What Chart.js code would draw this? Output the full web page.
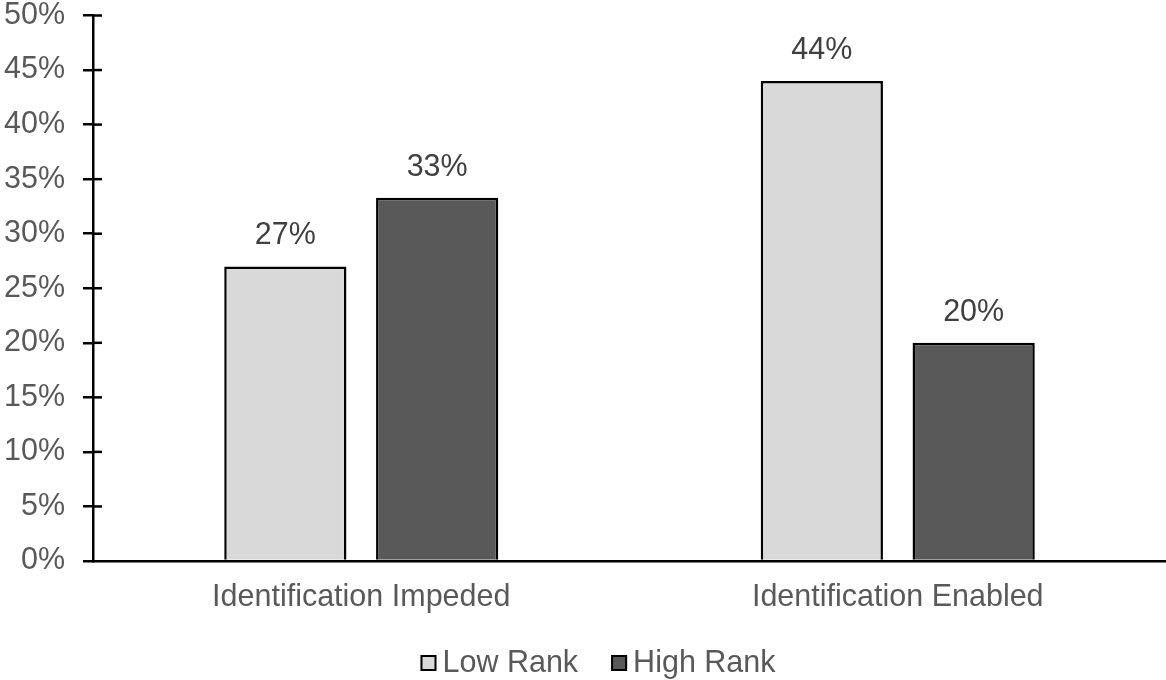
<!DOCTYPE html>
<html>
<head>
<meta charset="utf-8">
<script src="https://cdn.jsdelivr.net/npm/chart.js@4.4.0/dist/chart.umd.min.js"></script>
<style>
html,body{margin:0;padding:0;background:#fff;}
#wrap{width:1166px;height:680px;position:relative;}
</style>
</head>
<body>
<div id="wrap"><canvas id="c" width="1166" height="680"></canvas></div>
<script>
// data
const CATEGORIES = ["Identification Impeded", "Identification Enabled"];
const SERIES = ["Low Rank", "High Rank"];
const LOW_RANK = [27, 44];
const HIGH_RANK = [33.3, 20];
const Y_TICKS = [0, 5, 10, 15, 20, 25, 30, 35, 40, 45, 50];

const FONT = "'Liberation Sans', Arial, sans-serif";
const FSIZE = 30.5;
const COLORS = ['#d9d9d9', '#595959'];

const innerTicks = {
  id: 'innerTicks',
  afterDraw(chart) {
    const y = chart.scales.y;
    const ctx = chart.ctx;
    ctx.save();
    ctx.strokeStyle = '#000';
    ctx.lineWidth = 2.5;
    Y_TICKS.forEach(v => {
      if (v === 0) return;
      const py = y.getPixelForValue(v);
      ctx.beginPath();
      ctx.moveTo(chart.chartArea.left, py);
      ctx.lineTo(chart.chartArea.left + 9, py);
      ctx.stroke();
    });
    ctx.restore();
  }
};

const dataLabels = {
  id: 'dataLabels',
  afterDatasetsDraw(chart) {
    const ctx = chart.ctx;
    ctx.save();
    ctx.font = FSIZE + 'px ' + FONT;
    ctx.fillStyle = '#404040';
    ctx.textAlign = 'center';
    ctx.textBaseline = 'alphabetic';
    chart.data.datasets.forEach((ds, i) => {
      const meta = chart.getDatasetMeta(i);
      meta.data.forEach((el, j) => {
        ctx.fillText(Math.round(ds.data[j]) + '%', el.x, el.y - 22);
      });
    });
    ctx.restore();
  }
};

const customLegend = {
  id: 'customLegend',
  afterDraw(chart) {
    const ctx = chart.ctx;
    ctx.save();
    ctx.font = FSIZE + 'px ' + FONT;
    const box = 16, gap = 6, spacing = 33;
    const items = chart.data.datasets.map(ds => ({ text: ds.label, fill: ds.backgroundColor, w: ctx.measureText(ds.label).width }));
    const total = items.reduce((a, it) => a + box + gap + it.w, 0) + spacing * (items.length - 1);
    const cx = chart.width / 2 + 15;
    let x = cx - total / 2;
    const baseY = chart.height - 8;
    items.forEach(it => {
      ctx.fillStyle = it.fill;
      ctx.fillRect(x, baseY - box - 1, box, box);
      ctx.strokeStyle = '#000';
      ctx.lineWidth = 2;
      ctx.strokeRect(x + 1, baseY - box, box - 2, box - 2);
      ctx.fillStyle = '#595959';
      ctx.textAlign = 'left';
      ctx.textBaseline = 'alphabetic';
      ctx.fillText(it.text, x + box + gap, baseY);
      x += box + gap + it.w + spacing;
    });
    ctx.restore();
  }
};

new Chart(document.getElementById('c'), {
  type: 'bar',
  data: {
    labels: CATEGORIES,
    datasets: [
      { label: SERIES[0], data: LOW_RANK, backgroundColor: COLORS[0], borderColor: '#000', borderWidth: 2.5, categoryPercentage: 0.566, barPercentage: 0.805 },
      { label: SERIES[1], data: HIGH_RANK, backgroundColor: COLORS[1], borderColor: '#000', borderWidth: 2.5, categoryPercentage: 0.566, barPercentage: 0.805 }
    ]
  },
  options: {
    responsive: false,
    animation: false,
    layout: { padding: { top: 15.5, right: 0, left: 0, bottom: 0 } },
    plugins: {
      legend: { display: false },
      tooltip: { enabled: false }
    },
    scales: {
      x: {
        afterFit(s) { s.height = 119; s.paddingLeft = 0; s.paddingRight = 0; },
        grid: { display: false, drawTicks: false },
        border: { display: true, color: '#000', width: 2.5 },
        ticks: { font: { size: FSIZE, family: FONT }, color: '#595959', padding: 18, maxRotation: 0 }
      },
      y: {
        min: 0, max: 50,
        afterFit(s) { s.width = 93; s.paddingTop = 0; s.paddingBottom = 0; },
        afterBuildTicks(s) { s.ticks = Y_TICKS.map(v => ({ value: v })); },
        grid: { drawOnChartArea: false, drawTicks: true, tickLength: 10, color: '#000', lineWidth: 2.5 },
        border: { display: true, color: '#000', width: 2.5 },
        ticks: { font: { size: FSIZE, family: FONT }, color: '#595959', padding: 18, callback: v => v + '%' }
      }
    }
  },
  plugins: [innerTicks, dataLabels, customLegend]
});
</script>
</body>
</html>
